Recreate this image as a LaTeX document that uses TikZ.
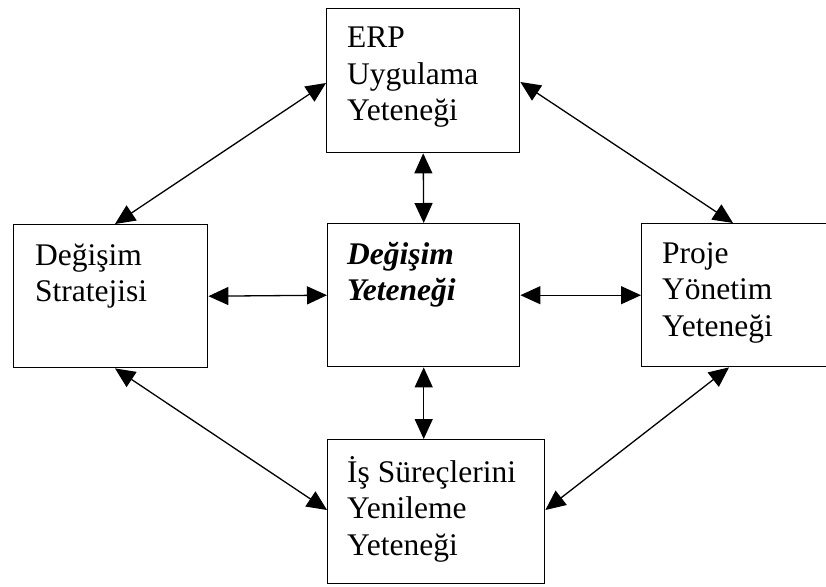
\documentclass[tikz,border=0pt]{standalone}
\usepackage{fontspec}
\setmainfont{Liberation Serif}
\usetikzlibrary{arrows.meta}
% left-aligned stack of lines whose baseline is that of the first line
\newcommand\linestack[1]{\vtop{\halign{##\hfil\cr#1\crcr}}}
\tikzset{
  box/.style={draw, line width=1.4pt, rectangle, inner sep=0pt, anchor=north west},
  boxtext/.style={anchor=base west, inner sep=0pt, font=\fontsize{31.5}{36.5}\selectfont},
  link/.style={line width=1.3pt, {Triangle[length=20pt,width=18pt]}-{Triangle[length=20pt,width=18pt]}}
}
\begin{document}
\begin{tikzpicture}[x=1pt, y=-1pt]
  \clip (0,0) rectangle (826,586);
  \fill[white] (0,0) rectangle (826,586);

  % boxes
  \node[box, minimum width=193pt, minimum height=144pt] (erp)   at (326,8)   {};
  \node[box, minimum width=194pt, minimum height=143pt] (strat) at (13,224)  {};
  \node[box, minimum width=192pt, minimum height=143pt] (core)  at (327,223) {};
  \node[box, minimum width=200pt, minimum height=143pt] (proj)  at (641,223) {};
  \node[box, minimum width=217pt, minimum height=144pt] (bpr)   at (327,439) {};

  % texts
  \node[boxtext] (erpT)   at (347,48)  {\linestack{ERP\cr Uygulama\cr Yeteneği}};
  \node[boxtext] (stratT) at (35,265)  {\linestack{Değişim\cr Stratejisi}};
  \node[boxtext] (coreT)  at (347,264) {\bfseries\itshape\linestack{Değişim\cr Yeteneği}};
  \node[boxtext] (projT)  at (662,263) {\linestack{Proje\cr Yönetim\cr Yeteneği}};
  \node[boxtext] (bprT)   at (347,482) {\linestack{İş Süreçlerini\cr Yenileme\cr Yeteneği}};

  % connectors
  \draw[link] ([xshift=102pt]strat.north west) -- ([yshift=-75pt]erp.north west);
  \draw[link] ([yshift=-74pt]erp.north east) -- ([xshift=92pt]proj.north west);
  \draw[link] ([xshift=102pt]strat.south west) -- ([yshift=-71pt]bpr.north west);
  \draw[link] ([xshift=88pt]proj.south west) -- ([yshift=-71pt]bpr.north east);
  \draw[link] (erp.south) -- (core.north);
  \draw[link] (core.south) -- (core.south |- bpr.north);
  \draw[link] (strat.east) -- (core.west);
  \draw[link] (core.east) -- (proj.west);
\end{tikzpicture}
\end{document}
